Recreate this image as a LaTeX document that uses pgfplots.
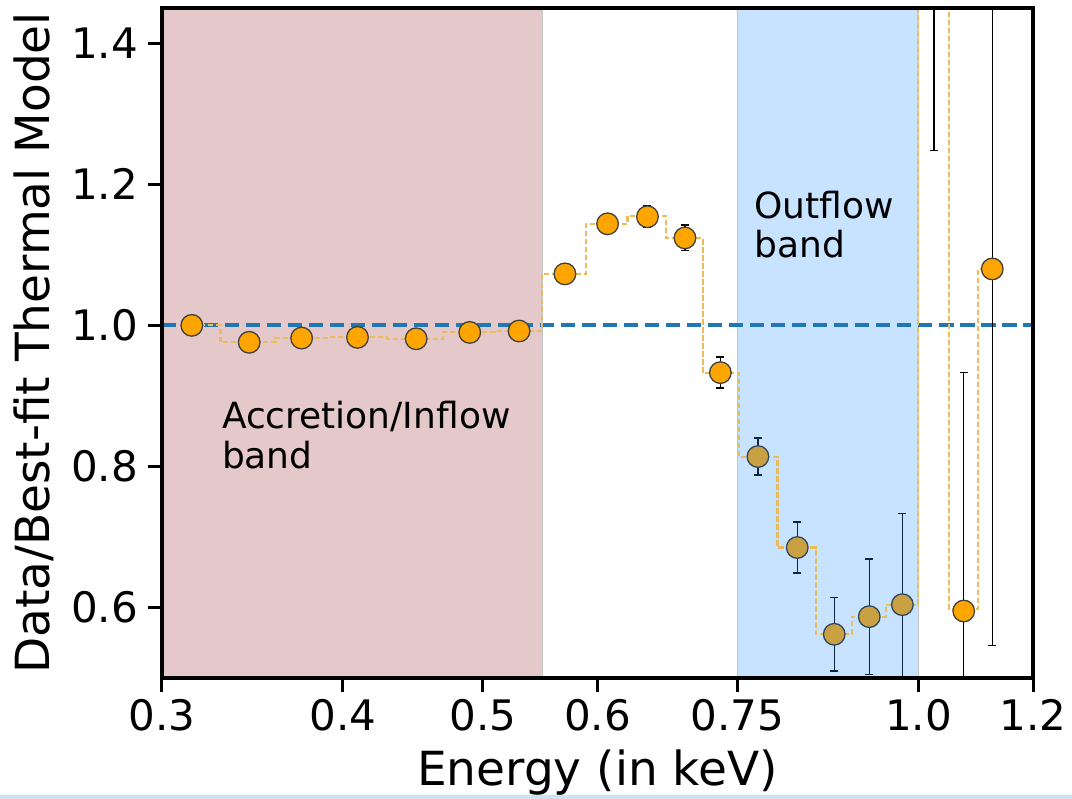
\documentclass[border=0pt]{standalone}
\usepackage{pgfplots}
\pgfplotsset{compat=1.18}
\usepackage{pgfplotstable}
\usepackage{fontspec}
\setmainfont{DejaVu Sans}
\definecolor{bandbrown}{RGB}{229,200,201}
\definecolor{bandblue}{RGB}{30,144,255}
\definecolor{tabblue}{RGB}{31,119,180}
\definecolor{ptorange}{RGB}{255,165,0}
\definecolor{ptdim}{RGB}{201,160,66}
\definecolor{bardim}{RGB}{10,38,66}
\definecolor{modelorange}{RGB}{236,188,90}
\definecolor{stripblue}{RGB}{205,226,246}

% points outside the outflow band
\pgfplotstableread{
E y err
0.3146 1.000 0.006
0.3447 0.976 0.006
0.3747 0.982 0.006
0.4095 0.983 0.006
0.4496 0.981 0.007
0.4896 0.990 0.007
0.5296 0.992 0.008
0.5697 1.073 0.010
0.6097 1.144 0.012
0.6497 1.154 0.015
0.6897 1.124 0.018
0.7297 0.933 0.022
1.0247 1.700 0.452
1.0747 0.595 0.338
1.1247 1.080 0.534
}\datatable

% points inside the outflow band
\pgfplotstableread{
E y err
0.7746 0.814 0.026
0.8246 0.685 0.036
0.8746 0.562 0.052
0.9247 0.587 0.082
0.9747 0.604 0.129
}\bandtable

\pgfplotstableread{
E m
0.3146 1.000
0.3447 0.976
0.3747 0.982
0.4095 0.983
0.4496 0.981
0.4896 0.9905
0.5296 0.992
0.5697 1.073
0.6097 1.144
0.6497 1.155
0.6897 1.124
0.7297 0.932
0.7746 0.813
0.8246 0.685
0.8746 0.562
0.9247 0.587
0.9747 0.604
1.0247 1.700
1.0747 0.598
1.1247 1.080
}\modeltable

\begin{document}
\begin{tikzpicture}
\path[use as bounding box] (0,0) rectangle (1072bp,799bp);
\fill[stripblue] (0,0) rectangle (1072bp,4bp);
\begin{axis}[
  at={(162bp,121bp)}, anchor=south west,
  width=871bp, height=670bp, scale only axis,
  xmode=log, xmin=0.3, xmax=1.2, ymin=0.5, ymax=1.45,
  xtick={0.3,0.4,0.5,0.6,0.75,1.0,1.2},
  xticklabels={0.3,0.4,0.5,0.6,0.75,1.0,1.2},
  minor xtick={},
  ytick={0.6,0.8,1.0,1.2,1.4},
  yticklabels={0.6,0.8,1.0,1.2,1.4},
  minor ytick={},
  axis line style={line width=4bp},
  tick align=outside,
  major tick length=14bp,
  every tick/.style={black, line width=3bp},
  tick pos=left,
  axis on top,
  ticklabel style={font=\fontsize{42bp}{50bp}\selectfont, inner sep=0pt},
  xticklabel style={yshift=-7bp},
  yticklabel style={xshift=-10bp},
  xlabel={Energy (in keV)},
  ylabel={Data/Best-fit Thermal Model},
  label style={font=\fontsize{47bp}{56bp}\selectfont, inner sep=0pt},
  xlabel style={at={(axis description cs:0.5,-0.161)}, anchor=base},
  ylabel style={at={(axis description cs:-0.1286,0.5)}, anchor=base},
]
% accretion band
\addplot[fill=bandbrown, draw=gray!45, line width=0.8bp] coordinates {(0.3,0.5) (0.3,1.45) (0.55,1.45) (0.55,0.5)} -- cycle;
% outflow band
\addplot[fill=bandblue, fill opacity=0.25, draw=gray!45, line width=0.8bp] coordinates {(0.75,0.5) (0.75,1.45) (1.0,1.45) (1.0,0.5)} -- cycle;
% unity line
\addplot[tabblue, line width=4bp, dash pattern=on 14.5bp off 6.5bp] coordinates {(0.3,1) (1.2,1)};
% data outside band
\addplot[only marks, mark=*, mark size=10.8bp,
  mark options={fill=ptorange, draw=black!75, line width=1.3bp},
  error bars/.cd, y dir=both, y explicit,
  error bar style={line width=1.5bp, black},
  error mark options={rotate=90, mark size=4bp, line width=1.5bp, black}]
  table[x=E, y=y, y error=err]{\datatable};
% data inside band (seen through the band)
\addplot[only marks, mark=*, mark size=10.8bp,
  mark options={fill=ptdim, draw=bardim!85, line width=1.3bp},
  error bars/.cd, y dir=both, y explicit,
  error bar style={line width=1.5bp, bardim},
  error mark options={rotate=90, mark size=4bp, line width=1.5bp, bardim}]
  table[x=E, y=y, y error=err]{\bandtable};
% model steps
\addplot[modelorange, line width=2.2bp, dash pattern=on 5.5bp off 2.5bp, const plot mark mid] table[x=E, y=m]{\modeltable};
\node[anchor=base west, inner sep=0pt, font=\fontsize{36bp}{43bp}\selectfont] at (axis cs:0.33,0.8539) {Accretion/Inflow};
\node[anchor=base west, inner sep=0pt, font=\fontsize{36bp}{43bp}\selectfont] at (axis cs:0.33,0.7972) {band};
\node[anchor=base west, inner sep=0pt, font=\fontsize{36bp}{43bp}\selectfont] at (axis cs:0.7702,1.1518) {Outflow};
\node[anchor=base west, inner sep=0pt, font=\fontsize{36bp}{43bp}\selectfont] at (axis cs:0.7702,1.0965) {band};
\end{axis}
\end{tikzpicture}
\end{document}
